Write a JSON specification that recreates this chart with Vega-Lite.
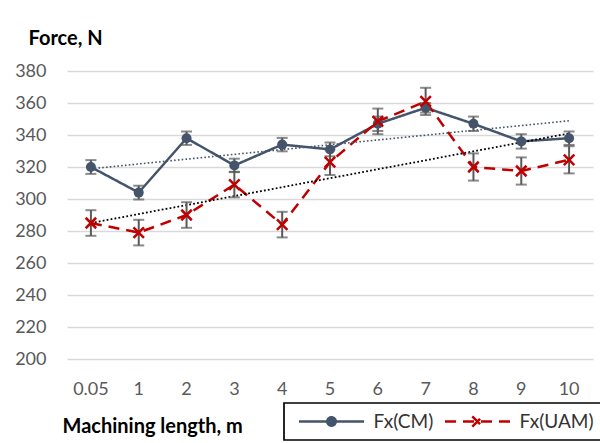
{
  "$schema": "https://vega.github.io/schema/vega-lite/v6.json",
  "width": 526,
  "height": 288,
  "autosize": "none",
  "padding": {"left": 67, "top": 71, "right": 7, "bottom": 84},
  "background": "white",
  "config": {
    "font": "Lato",
    "view": {"stroke": null},
    "legend": {"strokeWidth": 1.7}
  },
  "datasets": {
    "obs": [
      {"len": "0.05", "series": "Fx(CM)", "v": 320, "err": 4.3},
      {"len": "1", "series": "Fx(CM)", "v": 304, "err": 4.3},
      {"len": "2", "series": "Fx(CM)", "v": 338, "err": 4.2},
      {"len": "3", "series": "Fx(CM)", "v": 321, "err": 4.2},
      {"len": "4", "series": "Fx(CM)", "v": 334, "err": 4.2},
      {"len": "5", "series": "Fx(CM)", "v": 331, "err": 4.3},
      {"len": "6", "series": "Fx(CM)", "v": 347, "err": 4.5},
      {"len": "7", "series": "Fx(CM)", "v": 357, "err": 3},
      {"len": "8", "series": "Fx(CM)", "v": 347, "err": 4.5},
      {"len": "9", "series": "Fx(CM)", "v": 336, "err": 4.5},
      {"len": "10", "series": "Fx(CM)", "v": 338, "err": 4.2},
      {"len": "0.05", "series": "Fx(UAM)", "v": 285, "err": 8},
      {"len": "1", "series": "Fx(UAM)", "v": 279, "err": 8},
      {"len": "2", "series": "Fx(UAM)", "v": 290, "err": 8},
      {"len": "3", "series": "Fx(UAM)", "v": 309, "err": 8},
      {"len": "4", "series": "Fx(UAM)", "v": 284, "err": 8},
      {"len": "5", "series": "Fx(UAM)", "v": 323, "err": 8},
      {"len": "6", "series": "Fx(UAM)", "v": 348.5, "err": 8},
      {"len": "7", "series": "Fx(UAM)", "v": 361, "err": 8.5},
      {"len": "8", "series": "Fx(UAM)", "v": 320, "err": 8.5},
      {"len": "9", "series": "Fx(UAM)", "v": 317.5, "err": 8.5},
      {"len": "10", "series": "Fx(UAM)", "v": 324.5, "err": 8.5}
    ],
    "trend": [
      {"len": "0.05", "series": "Fx(CM)", "v": 318.9},
      {"len": "10", "series": "Fx(CM)", "v": 348.9},
      {"len": "0.05", "series": "Fx(UAM)", "v": 285},
      {"len": "10", "series": "Fx(UAM)", "v": 341}
    ]
  },
  "encoding": {
    "x": {
      "field": "len",
      "type": "ordinal",
      "sort": ["0.05", "1", "2", "3", "4", "5", "6", "7", "8", "9", "10"],
      "scale": {"paddingInner": 0, "paddingOuter": 0},
      "axis": {
        "title": "Machining length, m",
        "labelAngle": 0,
        "labelFontSize": 18,
        "labelColor": "#595959",
        "labelPadding": 21,
        "ticks": false,
        "domain": false,
        "grid": false,
        "titleFontSize": 20,
        "titleFontWeight": "bold",
        "titleColor": "black",
        "titleAnchor": "start",
        "titleAlign": "left",
        "titleBaseline": "middle",
        "titleX": -5,
        "titleY": 67
      }
    },
    "y": {
      "field": "v",
      "type": "quantitative",
      "scale": {"domain": [200, 380], "nice": false, "zero": false},
      "axis": {
        "title": "Force, N",
        "values": [200, 220, 240, 260, 280, 300, 320, 340, 360, 380],
        "labelFontSize": 18,
        "labelColor": "#595959",
        "labelPadding": 21,
        "ticks": false,
        "domain": false,
        "grid": true,
        "gridColor": "#D9D9D9",
        "gridWidth": 1.5,
        "titleAngle": 0,
        "titleAlign": "left",
        "titleBaseline": "middle",
        "titleX": -39,
        "titleY": -33,
        "titleFontSize": 20,
        "titleFontWeight": "bold",
        "titleColor": "black"
      }
    }
  },
  "layer": [
    {
      "data": {"name": "obs"},
      "mark": {"type": "line", "strokeWidth": 2.5},
      "encoding": {
        "color": {
          "field": "series",
          "type": "nominal",
          "scale": {"domain": ["Fx(CM)", "Fx(UAM)"], "range": ["#44546A", "#C00000"]},
          "legend": {
            "title": null,
            "orient": "none",
            "legendX": 217,
            "legendY": 332,
            "direction": "horizontal",
            "gridAlign": "none",
            "strokeColor": "black",
            "padding": 8.5,
            "symbolSize": 4225,
            "clipHeight": 20,
            "symbolOffset": 5,
            "symbolStrokeWidth": 2.5,
            "labelFontSize": 19,
            "labelColor": "#333333",
            "labelOffset": 8,
            "columnPadding": 5,
            "encode": {
              "symbols": {
                "update": {
                  "shape": {"signal": "datum.value === 'Fx(CM)' ? 'M-1,0L1,0M0.13,0A0.13,0.13,0,1,1,-0.13,0A0.13,0.13,0,1,1,0.13,0Z' : 'M-1,0L1,0M-0.16,-0.16L0.16,0.16M-0.16,0.16L0.16,-0.16'"},
                  "fill": {"signal": "datum.value === 'Fx(CM)' ? '#44546A' : 'transparent'"},
                  "strokeDash": {"signal": "datum.value === 'Fx(CM)' ? [1,0] : [11,7]"}
                }
              }
            }
          }
        },
        "strokeDash": {
          "field": "series",
          "type": "nominal",
          "scale": {"domain": ["Fx(CM)", "Fx(UAM)"], "range": [[1, 0], [11, 7]]},
          "legend": null
        }
      }
    },
    {
      "data": {"name": "trend"},
      "transform": [{"filter": "datum.series === 'Fx(CM)'"}],
      "mark": {"type": "line", "color": "#44546A", "strokeWidth": 1.6, "strokeDash": [1.6, 2.2]},
      "encoding": {}
    },
    {
      "data": {"name": "trend"},
      "transform": [{"filter": "datum.series === 'Fx(UAM)'"}],
      "mark": {"type": "line", "color": "black", "strokeWidth": 1.8, "strokeDash": [1.8, 2.2]},
      "encoding": {}
    },
    {
      "data": {"name": "obs"},
      "mark": {
        "type": "errorbar",
        "color": "#595959",
        "ticks": {"size": 11, "thickness": 2, "color": "#595959"},
        "rule": {"strokeWidth": 2, "color": "#595959"}
      },
      "encoding": {"yError": {"field": "err"}}
    },
    {
      "data": {"name": "obs"},
      "transform": [{"filter": "datum.series === 'Fx(CM)'"}],
      "mark": {"type": "point", "shape": "circle", "filled": true, "size": 100, "color": "#44546A", "opacity": 1},
      "encoding": {}
    },
    {
      "data": {"name": "obs"},
      "transform": [{"filter": "datum.series === 'Fx(UAM)'"}],
      "mark": {"type": "point", "shape": "M-1,-1L1,1M-1,1L1,-1", "filled": false, "size": 110, "color": "#C00000", "strokeWidth": 2.5, "opacity": 1},
      "encoding": {}
    }
  ]
}
